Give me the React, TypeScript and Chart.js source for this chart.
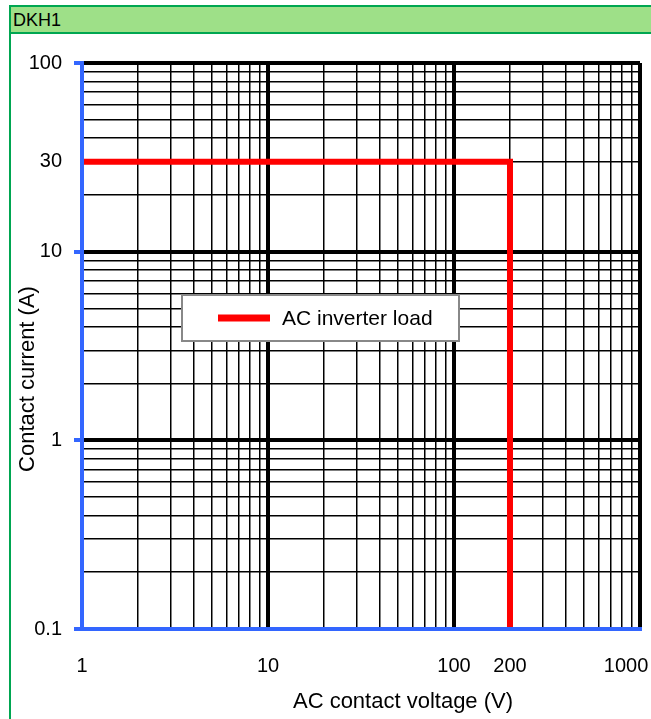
import React, { useEffect, useRef } from "react";
import { Chart, registerables } from "chart.js";

Chart.register(...registerables);

// ---- data ----
const PANEL_TITLE = "DKH1";
const SERIES_LABEL = "AC inverter load";
const VOLTAGE = [1, 200, 200];
const CURRENT = [30, 30, 0.1];
const X_GRID = [1, 2, 3, 4, 5, 6, 7, 8, 9, 10, 20, 30, 40, 50, 60, 70, 80, 90, 100, 200, 300, 400, 500, 600, 700, 800, 900, 1000];
const Y_GRID = [0.1, 0.2, 0.3, 0.4, 0.5, 0.6, 0.7, 0.8, 0.9, 1, 2, 3, 4, 5, 6, 7, 8, 9, 10, 20, 30, 40, 50, 60, 70, 80, 90, 100];
const X_LABELS = [1, 10, 100, 200, 1000];
const Y_LABELS = [0.1, 1, 10, 30, 100];
const X_TITLE = "AC contact voltage (V)";
const Y_TITLE = "Contact current (A)";

const FONT = '"Liberation Sans", Arial, sans-serif';
const BLUE = "#3366ff";
const RED = "#ff0000";
const FRAME_GREEN = "#00a651";
const HEADER_GREEN = "#9ee088";

const isMajor = (v: number) => {
  const l = Math.log10(v);
  return Math.abs(l - Math.round(l)) < 1e-6;
};
const inList = (v: number, list: number[]) => list.some((l) => Math.abs(l - v) < 1e-9 * Math.max(1, l));

const overlayPlugin = {
  id: "overlay",
  afterDraw(chart: any) {
    const ctx = chart.ctx as CanvasRenderingContext2D;
    const ca = chart.chartArea;
    ctx.save();
    // legend box
    const ds = chart.data.datasets[0];
    const bx = ca.left + 100;
    const by = ca.top + 232;
    const bw = 277;
    const bh = 46;
    ctx.fillStyle = "#ffffff";
    ctx.fillRect(bx, by, bw, bh);
    ctx.strokeStyle = "#888888";
    ctx.lineWidth = 2;
    ctx.strokeRect(bx, by, bw, bh);
    ctx.strokeStyle = ds.borderColor;
    ctx.lineWidth = 7;
    ctx.beginPath();
    ctx.moveTo(bx + 36, by + 23);
    ctx.lineTo(bx + 88, by + 23);
    ctx.stroke();
    ctx.fillStyle = "#000";
    ctx.font = `21px ${FONT}`;
    ctx.textAlign = "left";
    ctx.textBaseline = "middle";
    ctx.fillText(ds.label, bx + 100, by + 24);

    // axis titles
    ctx.font = `22px ${FONT}`;
    ctx.textAlign = "center";
    ctx.textBaseline = "alphabetic";
    ctx.fillText(X_TITLE, 403, 708);
    ctx.translate(34, 379);
    ctx.rotate(-Math.PI / 2);
    ctx.fillText(Y_TITLE, 0, 0);
    ctx.restore();
  },
};

export default function App() {
  const ref = useRef<HTMLCanvasElement | null>(null);

  useEffect(() => {
    if (!ref.current) return;
    const chart = new Chart(ref.current, {
      type: "line",
      data: {
        datasets: [
          {
            label: SERIES_LABEL,
            data: VOLTAGE.map((x, i) => ({ x, y: CURRENT[i] })),
            borderColor: RED,
            backgroundColor: RED,
            borderWidth: 6,
            pointRadius: 0,
            fill: false,
            tension: 0,
          },
        ],
      },
      options: {
        animation: false,
        responsive: false,
        events: [],
        layout: { padding: { top: 63, right: 11, left: 0, bottom: 0 } },
        plugins: { legend: { display: false }, tooltip: { enabled: false }, title: { display: false } },
        scales: {
          x: {
            type: "logarithmic",
            position: "bottom",
            min: 1,
            max: 1000,
            afterBuildTicks: (s: any) => {
              s.ticks = X_GRID.map((v) => ({ value: v }));
            },
            afterFit: (s: any) => {
              s.height = 90;
              s.paddingLeft = 0;
              s.paddingRight = 0;
            },
            ticks: {
              autoSkip: false,
              maxRotation: 0,
              minRotation: 0,
              padding: 25,
              color: "#000",
              font: { family: FONT, size: 20 },
              callback: (v: any) => {
                const n = Number(v);
                if (!inList(n, X_LABELS)) return "";
                return n === 1000 ? "1000     " : String(n);
              },
            },
            grid: {
              color: "#000",
              lineWidth: (c: any) => (c.tick && isMajor(c.tick.value) ? 4 : 1.5),
              drawTicks: false,
            },
            border: { color: BLUE, width: 4, z: 1 },
          },
          y: {
            type: "logarithmic",
            position: "left",
            min: 0.1,
            max: 100,
            afterBuildTicks: (s: any) => {
              s.ticks = Y_GRID.map((v) => ({ value: v }));
            },
            afterFit: (s: any) => {
              s.width = 82;
              s.paddingTop = 0;
              s.paddingBottom = 0;
            },
            ticks: {
              autoSkip: false,
              padding: 12,
              color: "#000",
              font: { family: FONT, size: 20 },
              callback: (v: any) => {
                const n = Number(v);
                return inList(n, Y_LABELS) ? String(n) : "";
              },
            },
            grid: {
              color: "#000",
              lineWidth: (c: any) => (c.tick && isMajor(c.tick.value) ? 4 : 1.5),
              drawTicks: true,
              tickLength: 8,
              tickWidth: 4,
              tickColor: (c: any) => (c.tick && isMajor(c.tick.value) ? BLUE : "rgba(0,0,0,0)"),
            },
            border: { color: BLUE, width: 4, z: 1 },
          },
        },
      } as any,
      plugins: [overlayPlugin],
    });
    return () => chart.destroy();
  }, []);

  return (
    <div style={{ position: "fixed", left: 0, top: 0, width: 651, height: 719, overflow: "hidden", background: "#fff" }}>
      <div
        style={{
          position: "absolute",
          left: 9,
          top: 5,
          width: 700,
          height: 760,
          borderLeft: `2px solid ${FRAME_GREEN}`,
          borderTop: `2px solid ${FRAME_GREEN}`,
        }}
      />
      <div
        style={{
          position: "absolute",
          left: 11,
          top: 7,
          width: 700,
          height: 24,
          background: HEADER_GREEN,
          borderBottom: `2px solid ${FRAME_GREEN}`,
          font: `18px ${FONT}`,
          lineHeight: "24px",
          paddingLeft: 2,
          paddingTop: 1,
          boxSizing: "content-box",
          color: "#000",
        }}
      >
        {PANEL_TITLE}
      </div>
      <canvas ref={ref} width={651} height={719} style={{ position: "absolute", left: 0, top: 0, display: "block" }} />
    </div>
  );
}
